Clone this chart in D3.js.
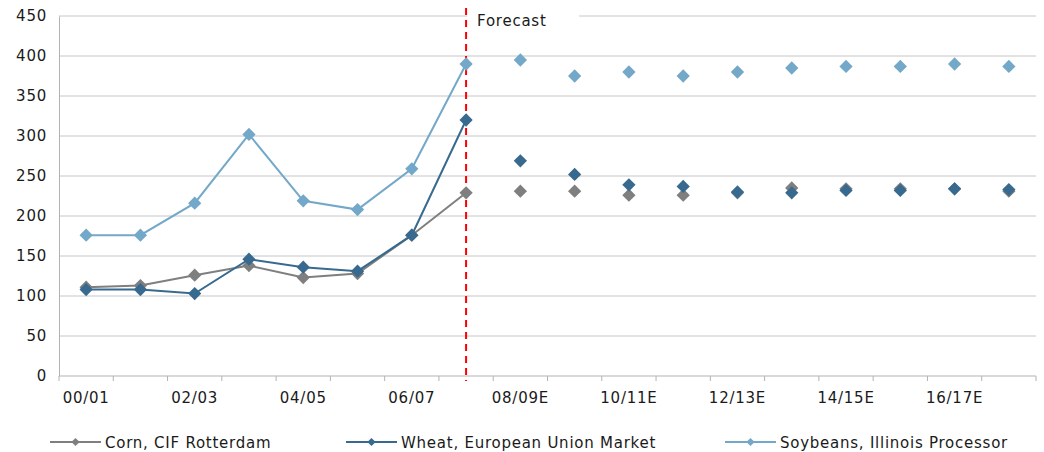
<!DOCTYPE html>
<html>
<head>
<meta charset="utf-8">
<script src="https://cdn.jsdelivr.net/npm/d3@7"></script>
<style>
  html, body { margin: 0; padding: 0; background: #fff; }
  svg text { font-family: "DejaVu Sans", Verdana, sans-serif; fill: #1a1a1a; letter-spacing: 0.75px; }
</style>
</head>
<body>
<svg id="chart" width="1044" height="452"></svg>
<script>
// Marketing years, 2000/01 through the 2017/18 forecast
const categories = ["00/01","01/02","02/03","03/04","04/05","05/06","06/07","07/08",
  "08/09E","09/10E","10/11E","11/12E","12/13E","13/14E","14/15E","15/16E","16/17E","17/18E"];
const xTickLabels = ["00/01","02/03","04/05","06/07","08/09E","10/11E","12/13E","14/15E","16/17E"];
const yTicks = [0, 50, 100, 150, 200, 250, 300, 350, 400, 450];

// Prices (USD/t); the first 8 years are actuals, the rest forecasts
const corn     = [111, 113, 126, 138, 123, 128, 176, 229, 231, 231, 226, 226, 229, 235, 234, 234, 234, 231];
const wheat    = [108, 108, 103, 146, 136, 131, 176, 320, 269, 252, 239, 237, 230, 229, 232, 232, 234, 233];
const soybeans = [176, 176, 216, 302, 219, 208, 259, 390, 395, 375, 380, 375, 380, 385, 387, 387, 390, 387];
const actualCount = 8;
const forecastStart = "07/08";

const series = [
  { name: "Corn, CIF Rotterdam", values: corn, color: "#7f7f7f" },
  { name: "Wheat, European Union Market", values: wheat, color: "#376a8e" },
  { name: "Soybeans, Illinois Processor", values: soybeans, color: "#74a8c9" }
];

const svg = d3.select("#chart");
const margin = { left: 59, right: 8, top: 16, bottom: 76 };
const W = 1044, H = 452;
const x = d3.scaleBand().domain(categories).range([margin.left, W - margin.right]);
const y = d3.scaleLinear().domain([0, 450]).range([H - margin.bottom, margin.top]);
const cx = c => x(c) + x.bandwidth() / 2;

// Horizontal gridlines
svg.append("g").selectAll("line").data(yTicks.filter(d => d > 0)).join("line")
  .attr("x1", margin.left).attr("x2", W - margin.right)
  .attr("y1", d => y(d)).attr("y2", d => y(d))
  .attr("stroke", "#c6c6c6").attr("stroke-width", 1);

// Y axis
const yAxis = svg.append("g").attr("transform", `translate(${margin.left},0)`)
  .call(d3.axisLeft(y).tickValues(yTicks).tickSize(0).tickPadding(12));
yAxis.select(".domain").attr("stroke", "#b3b3b3");
yAxis.selectAll("text").attr("font-size", 15).style("font-family", '"DejaVu Sans", Verdana, sans-serif').attr("fill", "#1a1a1a");

// X axis: tick marks at category boundaries, labels on every other year
const xAxisG = svg.append("g").attr("transform", `translate(0,${y(0)})`);
xAxisG.append("line").attr("x1", margin.left).attr("x2", W - margin.right)
  .attr("y1", 0).attr("y2", 0).attr("stroke", "#b3b3b3");
const bounds = categories.map(c => x(c)).concat([x(categories[categories.length - 1]) + x.bandwidth()]);
xAxisG.selectAll("line.tick").data(bounds).join("line").attr("class", "tick")
  .attr("x1", d => d).attr("x2", d => d).attr("y1", 0).attr("y2", 5)
  .attr("stroke", "#b3b3b3");
xAxisG.selectAll("text").data(xTickLabels).join("text")
  .attr("x", d => cx(d)).attr("y", 27).attr("text-anchor", "middle")
  .attr("font-size", 15).text(d => d);

// Forecast marker: label box masking the top gridline and a dashed red line
const fx = cx(forecastStart);
svg.append("rect").attr("x", fx + 1).attr("y", y(450) - 6).attr("width", 112).attr("height", 20).attr("fill", "#fff");
svg.append("text").attr("x", fx + 11).attr("y", y(450) + 10).attr("font-size", 15).text("Forecast");
svg.append("line").attr("x1", fx).attr("x2", fx).attr("y1", 8).attr("y2", y(0) + 5)
  .attr("stroke", "#ff0000").attr("stroke-width", 2).attr("stroke-dasharray", "7,5");

// Lines for actuals, diamond (rotated square) markers for every year
const marker = d3.symbol().type(d3.symbolSquare).size(88);
const line = d3.line().x((d, i) => cx(categories[i])).y(d => y(d));
series.forEach(s => {
  svg.append("path").datum(s.values.slice(0, actualCount))
    .attr("d", line).attr("fill", "none").attr("stroke", s.color).attr("stroke-width", 2);
});
series.forEach(s => {
  svg.append("g").selectAll("path").data(s.values).join("path")
    .attr("d", marker)
    .attr("transform", (d, i) => `translate(${cx(categories[i])},${y(d)}) rotate(45)`)
    .attr("fill", s.color);
});

// Legend
const legendY = 442;
const legendX = [50, 346, 725];
series.forEach((s, i) => {
  const g = svg.append("g").attr("transform", `translate(${legendX[i]},${legendY})`);
  g.append("line").attr("x1", 0).attr("x2", 51).attr("y1", 0).attr("y2", 0)
    .attr("stroke", s.color).attr("stroke-width", 2);
  g.append("path").attr("d", d3.symbol().type(d3.symbolSquare).size(34))
    .attr("transform", "translate(25.5,0) rotate(45)").attr("fill", s.color);
  g.append("text").attr("x", 55).attr("y", 5.5).attr("font-size", 15).text(s.name);
});
</script>
</body>
</html>
